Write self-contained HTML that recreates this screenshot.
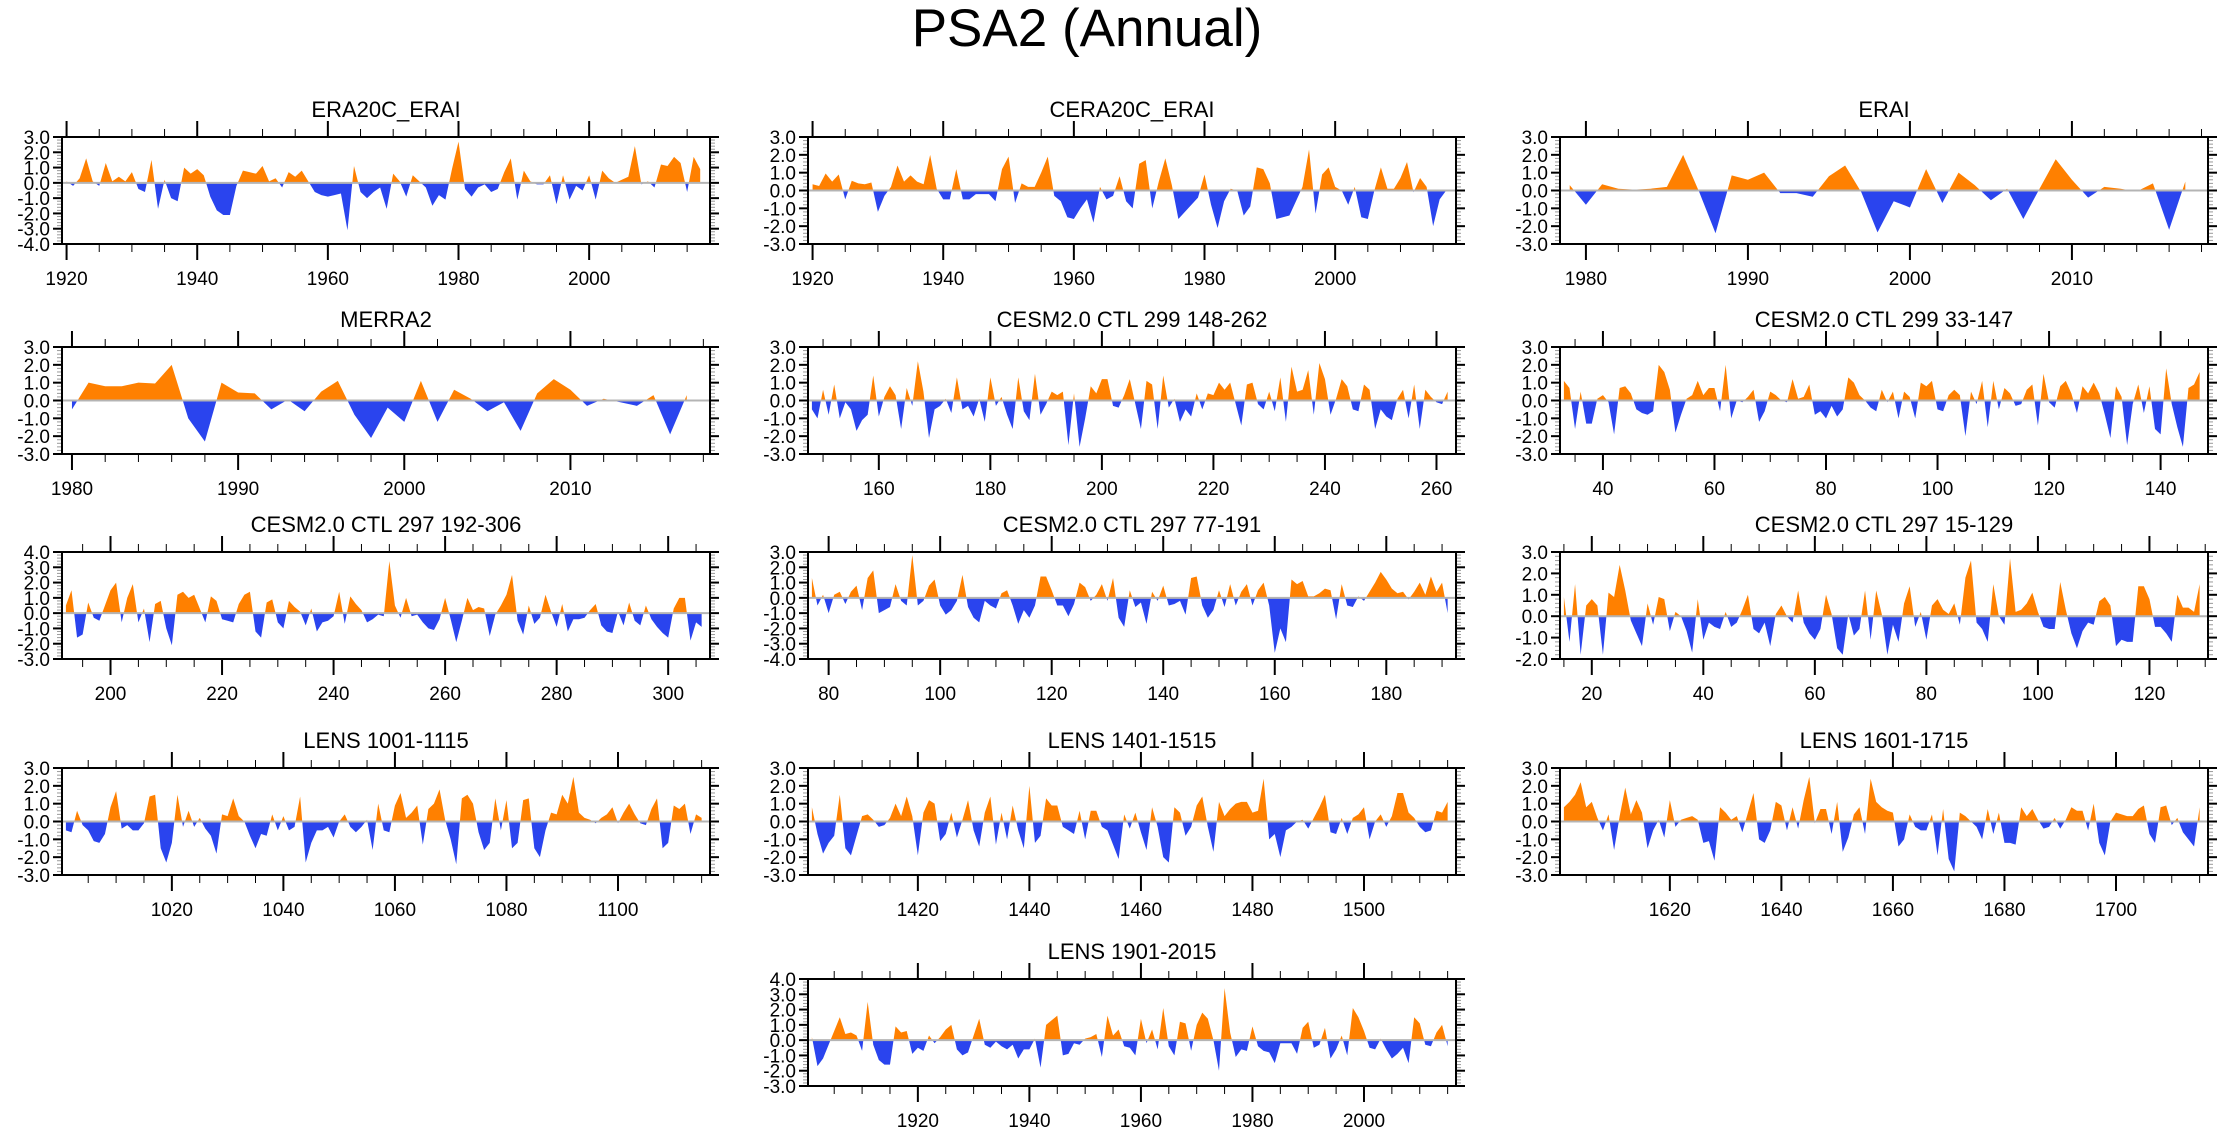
<!DOCTYPE html>
<html><head><meta charset="utf-8"><title>PSA2 (Annual)</title>
<style>
html,body{margin:0;padding:0;background:#fff;}
svg{display:block;font-family:"Liberation Sans",Arial,sans-serif;}
</style></head>
<body>
<svg id="chart" width="2230" height="1133" viewBox="0 0 2230 1133" xmlns="http://www.w3.org/2000/svg">
<rect width="2230" height="1133" fill="#fff"/>
<text x="1087" y="46" font-size="53" text-anchor="middle" fill="#000">PSA2 (Annual)</text>
</svg>
<script>
// ---- data ----
const era20cValues = [0.1,-0.2,0.3,1.6,0.1,-0.2,1.3,0.1,0.4,0.1,0.7,-0.4,-0.6,1.5,-1.7,0.2,-1.0,-1.2,1.0,0.6,0.9,0.5,-0.9,-1.8,-2.1,-2.1,-0.2,0.8,0.7,0.6,1.1,0.1,0.3,-0.3,0.7,0.4,0.8,0.1,-0.6,-0.8,-0.9,-0.8,-0.7,-3.1,1.1,-0.6,-1.0,-0.6,-0.3,-1.7,0.6,0.1,-0.9,0.5,0.1,-0.3,-1.5,-0.8,-1.1,0.9,2.7,-0.4,-0.9,-0.3,-0.1,-0.6,-0.4,0.7,1.6,-1.1,0.8,0.1,-0.1,-0.1,0.5,-1.4,0.5,-1.1,-0.2,-0.5,0.5,-1.1,0.8,0.3,0.0,0.2,0.4,2.4,-0.1,0.1,-0.3,1.2,1.1,1.7,1.3,-0.6,1.7,0.9];
const cera20cValues = [0.35,0.25,0.95,0.5,0.9,-0.5,0.55,0.4,0.35,0.45,-1.2,-0.3,0.2,1.4,0.5,0.85,0.5,0.35,2.0,0.1,-0.5,-0.5,1.2,-0.5,-0.5,-0.2,-0.2,-0.2,-0.6,1.2,1.9,-0.7,0.4,0.2,0.2,1.0,1.9,-0.3,-0.6,-1.5,-1.6,-1.0,-0.5,-1.8,0.2,-0.5,-0.3,0.8,-0.6,-1.0,1.5,1.7,-1.0,0.5,1.8,0.3,-1.6,-1.2,-0.8,-0.4,0.9,-0.8,-2.1,-0.6,0.1,0.0,-1.4,-0.9,1.3,1.2,0.4,-1.6,-1.5,-1.4,-0.6,0.2,2.3,-1.3,0.9,1.3,0.2,0.0,-0.8,0.2,-1.5,-1.6,0.0,1.3,0.1,0.1,0.7,1.6,-0.1,0.7,0.2,-2.0,-0.5,0.0];
const eraiValues = [0.3,-0.8,0.35,0.1,0.05,0.1,0.2,2.0,-0.1,-2.4,0.85,0.6,1.0,-0.15,-0.15,-0.35,0.8,1.4,-0.1,-2.35,-0.6,-0.95,1.2,-0.7,1.0,0.3,-0.55,0.1,-1.6,0.1,1.75,0.6,-0.4,0.2,0.1,-0.05,0.4,-2.2,0.5];
const merra2Values = [-0.5,1.0,0.8,0.8,1.0,0.95,2.0,-1.0,-2.3,1.0,0.45,0.4,-0.5,0.05,-0.6,0.5,1.1,-0.8,-2.1,-0.4,-1.2,1.1,-1.2,0.6,0.1,-0.6,-0.1,-1.7,0.4,1.2,0.6,-0.3,0.1,-0.1,-0.3,0.3,-1.9,0.3];
const ctl299aValues = [-0.5,-1.0,0.6,-0.8,0.9,-1.0,-0.1,-0.5,-1.7,-1.1,-0.8,1.4,-0.9,0.2,0.8,0.3,-1.6,0.7,-0.3,2.2,0.5,-2.1,-0.5,-0.3,0.1,-0.7,1.3,-0.5,-0.3,-0.9,0.1,-1.2,1.3,-0.3,0.2,-0.8,-1.6,1.3,-0.6,-1.1,1.5,-0.8,-0.2,0.5,0.3,0.5,-2.5,0.4,-2.6,-1.0,0.8,0.4,1.2,1.2,-0.3,-0.4,0.3,1.2,-0.2,-1.6,1.1,0.9,-1.6,1.4,-0.4,0.1,-1.2,-0.5,-0.9,0.4,-0.5,0.4,0.3,1.0,0.6,1.0,-0.2,-1.4,0.9,1.0,-0.2,-0.5,0.5,-0.6,1.3,-1.2,1.9,0.5,0.6,1.7,-0.8,2.1,1.2,-0.8,0.1,1.2,0.8,-0.5,-0.6,0.9,0.6,-1.6,-0.5,-0.9,-1.1,0.1,0.6,-1.0,0.9,-1.6,0.6,0.2,-0.1,-0.2,0.5];
const ctl299bValues = [1.1,0.7,-1.6,0.5,-1.3,-1.3,0.1,0.3,-0.1,-1.9,0.7,0.8,0.4,-0.5,-0.7,-0.8,-0.6,2.0,1.6,0.6,-1.8,-0.8,0.1,0.3,1.1,0.3,0.7,0.7,-0.6,2.0,-1.0,0.0,-0.1,0.2,0.6,-1.2,-0.6,0.5,0.3,0.0,-0.1,1.2,0.1,0.2,0.9,-0.8,-0.6,-1.0,-0.3,-0.9,-0.5,1.3,1.0,0.3,0.0,-0.4,-0.6,0.6,-0.1,0.5,-1.0,0.5,0.2,-1.0,1.0,0.8,1.1,-0.5,-0.6,0.3,0.6,0.3,-2.0,0.5,-0.2,1.1,-1.5,1.1,-0.5,0.7,0.4,-0.3,-0.2,0.6,0.9,-1.4,1.5,-0.1,-0.4,0.8,1.1,0.4,-0.7,0.8,0.4,1.0,0.4,-0.8,-2.1,0.8,0.2,-2.5,-0.2,0.9,-0.7,0.8,-1.6,-1.9,1.8,-0.2,-1.5,-2.6,0.7,0.9,1.6];
const ctl297aValues = [0.5,1.5,-1.6,-1.4,0.7,-0.3,-0.5,0.5,1.5,2.0,-0.6,1.0,1.9,-0.6,0.3,-1.9,0.6,0.8,-1.0,-2.1,1.2,1.4,1.0,1.2,0.3,-0.6,1.1,0.8,-0.4,-0.5,-0.6,0.6,1.2,1.4,-1.2,-1.6,0.7,0.9,-0.6,-1.0,0.8,0.4,0.1,-0.8,0.3,-1.2,-0.6,-0.5,-0.2,1.4,-0.7,1.1,0.6,0.2,-0.6,-0.4,-0.1,-0.2,3.4,0.5,-0.3,1.0,-0.2,-0.1,-0.6,-1.0,-1.1,-0.4,1.0,-0.4,-1.9,-0.5,1.0,0.2,0.4,0.3,-1.5,-0.1,0.5,1.2,2.5,-0.5,-1.4,0.5,-0.7,-0.3,1.2,0.1,-0.9,0.6,-1.2,-0.4,-0.4,-0.3,0.2,0.6,-0.8,-1.2,-1.3,0.1,-0.8,0.7,-0.5,-0.8,0.5,-0.4,-0.9,-1.3,-1.6,0.3,1.0,1.0,-1.8,-0.6,-0.9];
const ctl297bValues = [1.3,-0.5,0.2,-1.0,0.2,0.4,-0.4,0.4,0.8,-0.8,1.3,1.8,-1.0,-0.8,-0.6,0.9,-0.2,-0.5,2.8,-0.5,-0.2,0.8,1.2,-0.5,-1.1,-0.8,-0.2,1.5,-0.6,-1.3,-1.6,-0.2,-0.5,-0.7,0.3,0.5,-0.5,-1.7,-0.8,-1.3,-0.5,1.4,1.4,0.5,-0.5,-0.5,-1.2,-0.4,1.0,0.7,-0.2,0.2,0.9,-0.2,1.3,-1.3,-1.9,0.5,-0.6,-0.3,-1.7,0.4,-0.2,0.8,-0.5,-0.4,-0.2,-1.1,1.3,1.4,-0.5,-1.3,-0.8,0.5,-0.6,0.9,-0.5,0.4,0.9,-0.5,0.5,1.0,-0.5,-3.6,-2.0,-2.9,1.2,0.9,1.1,0.1,0.1,0.3,0.6,0.5,-1.4,0.9,-0.5,-0.6,0.1,-0.2,0.4,1.0,1.7,1.2,0.6,0.3,0.4,-0.1,0.4,1.0,0.2,1.4,0.4,1.0,-1.0];
const ctl297cValues = [0.9,-1.2,1.5,-1.8,0.5,0.8,0.5,-1.8,1.1,0.9,2.4,1.2,-0.2,-0.8,-1.4,0.6,-0.4,0.9,0.8,-0.7,0.2,0.0,-0.7,-1.7,0.8,-1.1,-0.3,-0.5,-0.6,0.2,-0.5,-0.3,0.3,1.0,-0.6,-0.8,-0.3,-1.4,0.1,0.5,0.0,-0.3,1.2,-0.3,-0.8,-1.1,-0.6,1.0,0.1,-1.5,-1.8,0.1,-0.9,-0.6,1.2,-1.1,1.2,0.1,-1.8,-0.4,-1.2,0.6,1.4,-0.5,0.2,-1.1,0.5,0.8,0.3,0.1,0.6,-0.4,1.8,2.6,-0.3,-0.6,-1.2,1.5,0.0,-0.4,2.7,0.2,0.3,0.6,1.1,0.2,-0.5,-0.6,-0.6,1.6,0.3,-0.8,-1.5,-0.7,-0.3,-0.4,0.7,0.9,0.5,-1.4,-1.1,-1.2,-1.2,1.4,1.4,0.8,-0.5,-0.5,-0.8,-1.2,1.0,0.4,0.4,0.2,1.5];
const lens1001Values = [-0.5,-0.6,0.6,-0.2,-0.5,-1.1,-1.2,-0.7,0.8,1.7,-0.4,-0.2,-0.5,-0.5,-0.1,1.4,1.5,-1.5,-2.3,-1.2,1.5,-0.3,0.6,-0.3,0.2,-0.4,-0.8,-1.8,0.4,0.3,1.3,0.3,0.0,-0.8,-1.5,-0.7,-0.8,0.4,-0.5,0.3,-0.5,-0.3,1.4,-2.3,-1.2,-0.5,-0.5,-0.3,-0.9,0.0,0.4,-0.3,-0.6,-0.3,0.1,-1.6,1.0,-0.5,-0.6,0.9,1.6,0.2,0.5,0.9,-1.3,0.7,1.0,1.8,0.1,-1.0,-2.4,1.3,1.5,1.0,-0.6,-1.6,-1.2,1.3,-0.5,1.2,-1.5,-1.2,1.2,1.3,-1.5,-2.0,-0.5,0.5,0.4,1.5,1.0,2.5,0.5,0.2,0.1,-0.1,0.2,0.4,0.8,-0.1,0.5,1.0,0.4,-0.1,-0.2,0.7,1.3,-1.5,-1.2,0.9,0.7,1.0,-0.7,0.4,0.2];
const lens1401Values = [0.8,-0.7,-1.8,-1.2,-0.8,1.5,-1.5,-1.9,-0.8,0.3,0.4,0.1,-0.3,-0.2,0.2,1.0,0.3,1.4,0.3,-1.9,0.5,1.2,1.0,-1.1,-0.7,0.5,-0.9,0.1,1.2,-0.5,-1.4,0.5,1.4,-1.3,0.5,-1.0,0.9,-0.5,-1.5,2.0,-1.2,-0.8,1.3,0.9,0.9,-0.3,-0.5,-0.7,0.6,-1.0,0.6,0.6,-0.3,-0.5,-1.3,-2.1,0.4,-0.4,0.5,-0.6,-1.6,0.8,-0.3,-2.0,-2.3,0.8,0.5,-0.8,-0.3,0.9,1.4,-0.3,-1.7,1.1,0.3,0.7,1.0,1.1,1.1,0.5,0.6,2.4,-1.0,-0.7,-2.0,-0.5,-0.3,0.0,0.1,-0.4,0.2,0.8,1.5,-0.6,-0.7,0.2,-0.7,0.2,0.4,0.8,-1.0,0.0,0.4,-0.3,0.3,1.6,1.6,0.5,0.2,-0.3,-0.6,-0.5,0.6,0.5,1.1];
const lens1601Values = [0.8,1.1,1.5,2.2,0.8,1.1,0.2,-0.5,0.4,-1.6,0.3,1.9,0.4,1.2,0.5,-1.5,-0.5,0.1,-0.9,1.2,-0.3,0.1,0.2,0.3,0.1,-1.2,-1.1,-2.2,0.8,0.5,0.1,0.3,-0.6,0.5,1.6,-1.0,-1.2,-0.5,1.1,0.9,-0.5,0.8,-0.4,1.2,2.5,-0.1,0.7,0.7,-0.7,1.1,-1.7,-0.9,0.4,0.8,-0.7,2.4,1.1,0.8,0.6,0.5,-1.4,-1.0,0.4,-0.3,-0.5,-0.5,0.4,-1.9,0.7,-2.1,-2.8,0.5,0.3,0.0,-0.3,-1.0,0.7,-0.7,0.5,-1.2,-1.2,-1.3,0.8,0.3,0.7,0.1,-0.4,-0.3,0.2,-0.4,0.1,0.8,0.6,0.6,-0.5,1.0,-1.2,-1.9,0.0,0.5,0.4,0.3,0.3,0.7,0.9,-0.7,-1.2,0.8,0.9,-0.2,0.2,-0.6,-1.0,-1.4,0.8];
const lens1901Values = [0.2,-1.7,-1.2,-0.3,0.6,1.5,0.4,0.5,0.3,-0.7,2.5,-0.3,-1.3,-1.6,-1.6,0.9,0.5,0.6,-0.9,-0.5,-0.7,0.3,-0.2,0.2,0.7,1.0,-0.6,-1.0,-0.8,0.3,1.4,-0.3,-0.5,-0.1,-0.4,-0.6,-0.3,-1.2,-0.6,-0.6,0.1,-1.8,1.0,1.3,1.6,-1.0,-0.9,-0.2,-0.3,0.1,0.2,0.4,-1.1,1.6,0.3,0.7,-0.4,-0.5,-1.0,1.4,-0.2,0.7,-0.6,2.1,-0.4,-1.0,1.2,1.1,-0.7,1.0,1.8,1.4,0.0,-2.0,3.4,0.5,-1.1,-0.6,-0.7,0.9,-0.4,-0.7,-0.8,-1.5,-0.2,-0.2,-0.2,-0.9,0.8,1.2,-0.5,-0.3,0.8,-1.2,-0.6,0.3,-1.0,2.1,1.5,0.6,-0.5,-0.6,0.1,-0.6,-1.2,-0.9,-0.5,-1.5,1.5,1.1,-0.3,-0.4,0.5,1.0,-0.4];

const panelTitles = ["ERA20C_ERAI","CERA20C_ERAI","ERAI","MERRA2","CESM2.0 CTL 299 148-262","CESM2.0 CTL 299 33-147","CESM2.0 CTL 297 192-306","CESM2.0 CTL 297 77-191","CESM2.0 CTL 297 15-129","LENS 1001-1115","LENS 1401-1515","LENS 1601-1715","LENS 1901-2015"];
const panelStarts = [1920,1920,1979,1980,148,33,192,77,15,1001,1401,1601,1901];
const panelYMin = [-4,-3,-3,-3,-3,-3,-3,-4,-2,-3,-3,-3,-3];
const panelYMax = [3,3,3,3,3,3,4,3,3,3,3,3,4];
const panelXTickStep = [20,20,10,10,20,20,20,20,20,20,20,20,20];
const panelSeries = [era20cValues,cera20cValues,eraiValues,merra2Values,ctl299aValues,ctl299bValues,ctl297aValues,ctl297bValues,ctl297cValues,lens1001Values,lens1401Values,lens1601Values,lens1901Values];

// ---- layout ----
const NS = "http://www.w3.org/2000/svg";
const svg = document.getElementById("chart");
const colX = [62, 808, 1560];
const rowY = [137, 347, 552, 768, 979];
const PW = 648, PH = 107;
function mk(tag, attrs, parent){ const e=document.createElementNS(NS,tag); for(const k in attrs) e.setAttribute(k,attrs[k]); (parent||svg).appendChild(e); return e; }

panelSeries.forEach((vals, i) => {
  const row = Math.floor(i/3), col = i===12 ? 1 : i%3;
  const L = colX[col], T = rowY[row], R = L+PW, B = T+PH;
  const first = panelStarts[i], last = first + vals.length - 1;
  const short = vals.length < 50;
  const xmin = short ? first-0.6 : first-0.7, xmax = short ? last+1.4 : last+1.5;
  const ymin = panelYMin[i], ymax = panelYMax[i];
  const xs = v => L + (v - xmin)/(xmax - xmin)*PW;
  const ys = v => B - (v - ymin)/(ymax - ymin)*PH;

  const g = mk("g", {});
  
  

  const t = mk("text", {x:(L+R)/2, y:T-20, "font-size":22, "text-anchor":"middle", fill:"#000"}, g);
  t.textContent = panelTitles[i];
  
  

  const z = ys(0);
  let pts = xs(first)+","+z+" ";
  vals.forEach((v,k)=>{ pts += xs(first+k)+","+ys(v)+" "; });
  pts += xs(last)+","+z;
  const cpA = mk("clipPath", {id:"ca"+i}, g); mk("rect",{x:L,y:T,width:PW,height:z-T},cpA);
  const cpB = mk("clipPath", {id:"cb"+i}, g); mk("rect",{x:L,y:z,width:PW,height:B-z},cpB);
  const pos = mk("polygon", {points:pts, fill:"#ff8000", "clip-path":"url(#ca"+i+")"}, g);
  
  
  const neg = mk("polygon", {points:pts, fill:"#2a44ee", "clip-path":"url(#cb"+i+")"}, g);
  
  
  const zl = mk("line", {x1:L, x2:R, y1:z, y2:z, stroke:"#b4b4b4", "stroke-width":2}, g);
  
  

  for (let v = ymin; v <= ymax + 1e-9; v += 0.2) {
    const y = ys(v), major = Math.abs(v - Math.round(v)) < 1e-6;
    const len = major ? 9 : 5, col2 = major ? "#000" : "#999";
    mk("line",{x1:L-len,x2:L,y1:y,y2:y,stroke:col2,"stroke-width":major?2:1},g);
    mk("line",{x1:R,x2:R+len,y1:y,y2:y,stroke:col2,"stroke-width":major?2:1},g);
    if (major) {
      const yl = mk("text",{x:L-12,y:y+7,"font-size":19,"text-anchor":"end",fill:"#000"},g);
      yl.textContent = Math.round(v).toFixed(1);
      
      
    }
  }
  const step = panelXTickStep[i], minor = step === 20 ? 5 : 2;
  for (let v = Math.ceil(xmin/minor)*minor; v <= xmax; v += minor) {
    const x = xs(v), major = v % step === 0;
    const len = major ? 16 : 8;
    mk("line",{x1:x,x2:x,y1:B,y2:B+len,stroke:"#000","stroke-width":major?2:1},g);
    mk("line",{x1:x,x2:x,y1:T-len,y2:T,stroke:"#000","stroke-width":major?2:1},g);
    if (major) {
      const xl = mk("text",{x:x,y:B+41,"font-size":19,"text-anchor":"middle",fill:"#000"},g);
      xl.textContent = String(v);
      
      
    }
  }
  const fr = mk("rect",{x:L,y:T,width:PW,height:PH,fill:"none",stroke:"#000","stroke-width":2},g);
  
  
});
</script>
</body></html>
